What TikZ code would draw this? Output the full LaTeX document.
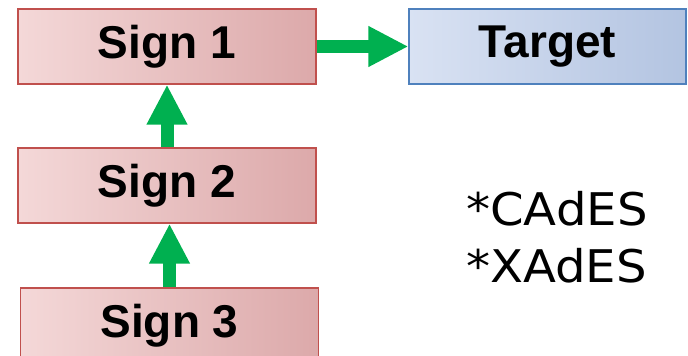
\documentclass[tikz,border=0pt]{standalone}
\usepackage{fontspec}
\setmainfont{Liberation Sans}
\newfontfamily\notefont[FakeStretch=1.07]{DejaVu Sans}
\usetikzlibrary{arrows.meta,positioning}

\definecolor{signline}{HTML}{C0504D}
\definecolor{signlight}{HTML}{F4D8D8}
\definecolor{signdark}{HTML}{DCA9AA}
\definecolor{targetline}{HTML}{4F81BD}
\definecolor{targetlight}{HTML}{D9E2F3}
\definecolor{targetdark}{HTML}{B3C4E1}
\definecolor{flow}{HTML}{00B050}

\tikzset{
  signbox/.style={draw=signline, line width=1.2pt, left color=signlight,
    right color=signdark, minimum width=298pt, minimum height=75pt,
    inner sep=0pt, font=\fontsize{46}{46}\selectfont\bfseries},
  targetbox/.style={signbox, draw=targetline, left color=targetlight,
    right color=targetdark, minimum width=277pt},
  flowarrow/.style={draw=flow, line width=13pt,
    -{Triangle[length=40pt,width=38pt]}},
  note/.style={anchor=base west, inner sep=0pt,
    font=\notefont\fontsize{45}{45}\selectfont}
}

\begin{document}
\begin{tikzpicture}[x=1pt,y=-1pt]
\useasboundingbox (0,0) rectangle (688,356);
% the chain of signatures
\node[signbox] (sign1) at (167,46.5) {Sign 1};
\node[signbox] (sign2) at (167,185.5) {Sign 2};
\node[signbox] (sign3) at (169.5,325.5) {Sign 3};
% what gets signed
\node[targetbox] (target) at (547.5,46.5) {Target};
% arrows between them
\draw[flowarrow] (sign1.east) -- (target.west);
\draw[flowarrow] (sign2.north) -- (sign1.south);
\draw[flowarrow] (sign3.north) -- (sign3.north |- sign2.south);
% formats
\node[note] (cades) at (466,225) {*CAdES};
\node[note] (xades) at (466,282) {*XAdES};
\end{tikzpicture}
\end{document}
